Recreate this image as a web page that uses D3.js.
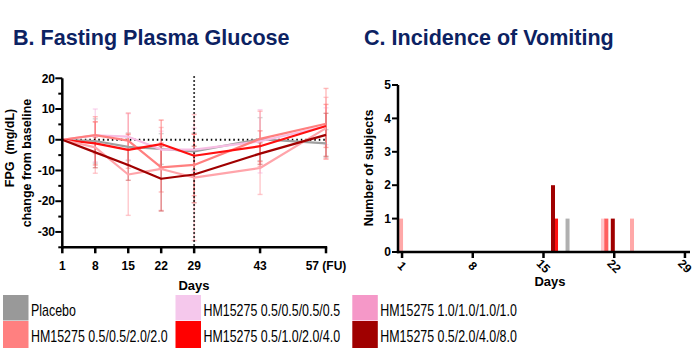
<!DOCTYPE html>
<html><head><meta charset="utf-8">
<script src="https://cdn.jsdelivr.net/npm/d3@7"></script>
<style>body{margin:0;background:#fff}svg{display:block;font-family:"Liberation Sans",Arial,sans-serif}</style>
</head><body>
<svg id="c" width="698" height="357"></svg>
<script>
// ---------- data ----------
const groups = ["Placebo","HM15275 0.5/0.5/0.5/0.5","HM15275 1.0/1.0/1.0/1.0","HM15275 0.5/0.5/2.0/2.0","HM15275 0.5/1.0/2.0/4.0","HM15275 0.5/2.0/4.0/8.0"];
const legendColors = ["#999999","#f5c8ec","#f598c8","#ff8080","#ff0000","#a00000"];
const lineColors   = ["#a0a0a0","#f7bde3","#ffa4aa","#ff7f7f","#ff1010","#a00000"];
const errColors    = ["#b8b8b8","#f7bde3","#ffa4aa","#ff9090","#ff7070","#d06060"];
const days = [1, 8, 15, 22, 29, 43, 57];
const dayLabels = ["1","8","15","22","29","43","57 (FU)"];
const fpgPlacebo = [0, -0.4, -2.3, -3.0, -3.8, 0.2, -1.2];
const fpgLow     = [0, 1.4, 1.0, -3.2, -3.2, -0.5, 4.4];
const fpgFlat1   = [0, -2.5, -11.3, -9.5, -12.3, -9.2, 3.8];
const fpgEsc2    = [0, 1.5, -0.3, -9.0, -8.2, 0.3, 5.2];
const fpgEsc4    = [0, -1.2, -3.3, -1.4, -5.2, -2.1, 4.5];
const fpgEsc8    = [0, -4.1, -8.2, -12.7, -11.3, -4.5, 1.6];
const errPlacebo = [0, 7.2, 4.5, 5.0, 6.0, 7.0, 4.5];
const errLow     = [0, 8.6, 7.5, 6.0, 7.0, 10.3, 6.0];
const errFlat1   = [0, 8.4, 13.3, 13.5, 20.5, 8.6, 10.0];
const errEsc2    = [0, 6.0, 9.0, 8.0, 10.0, 9.0, 11.5];
const errEsc4    = [0, 7.0, 5.0, 7.8, 7.0, 5.0, 7.0];
const errEsc8    = [0, 5.0, 5.0, 10.5, 9.2, 3.5, 7.0];
const fpgSeries = [fpgPlacebo, fpgLow, fpgFlat1, fpgEsc2, fpgEsc4, fpgEsc8];
const errSeries = [errPlacebo, errLow, errFlat1, errEsc2, errEsc4, errEsc8];
const yTicksB = [20, 10, 0, -10, -20, -30];

// vomiting events: day position, group index, number of subjects
const vomitDays   = [0.9, 16.24, 15.94, 17.38, 20.89, 21.22, 21.86, 23.76];
const vomitGroup  = [2, 4, 5, 0, 1, 3, 5, 2];
const vomitCounts = [1, 1, 2, 1, 1, 1, 1, 1];
const vomitTicks = [1, 8, 15, 22, 29];
const barColors = ["#b0b0b0","#ffc8cc","#ffa8a8","#ff6060","#ff1010","#a00000"];

const svg = d3.select("#c");
const navy = "#0c2262";

// ---------- titles ----------
svg.append("text").attr("transform","translate(13,45) scale(0.98,1)").attr("font-size",22).attr("font-weight","bold").attr("fill",navy).text("B. Fasting Plasma Glucose");
svg.append("text").attr("transform","translate(364,45) scale(0.98,1)").attr("font-size",22).attr("font-weight","bold").attr("fill",navy).text("C. Incidence of Vomiting");

// ---------- chart B ----------
const xB = d3.scaleLinear().domain([1,57]).range([62.3,326]);
const yB = d3.scaleLinear().domain([-35,20]).range([247.3,78.3]);
const gB = svg.append("g");

// error bars
fpgSeries.forEach((s,i)=>{
  const g = gB.append("g").attr("stroke",errColors[i]).attr("stroke-opacity",0.6).attr("stroke-width",1.4);
  days.forEach((d,j)=>{
    const e = errSeries[i][j]; if(!e) return;
    const x = xB(d);
    g.append("line").attr("x1",x).attr("x2",x).attr("y1",yB(s[j]+e)).attr("y2",yB(s[j]-e));
    g.append("line").attr("x1",x-2.5).attr("x2",x+2.5).attr("y1",yB(s[j]+e)).attr("y2",yB(s[j]+e));
    g.append("line").attr("x1",x-2.5).attr("x2",x+2.5).attr("y1",yB(s[j]-e)).attr("y2",yB(s[j]-e));
  });
});

// dotted reference lines
gB.append("line").attr("x1",xB(1)).attr("x2",xB(57)).attr("y1",yB(0)).attr("y2",yB(0))
  .attr("stroke","#000").attr("stroke-width",2).attr("stroke-dasharray","1.5,3");
gB.append("line").attr("x1",xB(29)).attr("x2",xB(29)).attr("y1",yB(20)-2).attr("y2",yB(-35))
  .attr("stroke","#000").attr("stroke-width",1.8).attr("stroke-dasharray","1.5,2.5");

// lines
const line = d3.line().x((d,j)=>xB(days[j])).y(d=>yB(d));
const order = [0,1,3,4,2,5];
order.forEach(i=>{
  gB.append("path").datum(fpgSeries[i]).attr("d",line).attr("fill","none")
    .attr("stroke",lineColors[i]).attr("stroke-width",2.2).attr("stroke-linejoin","round");
});

// axes
const axB = gB.append("g").attr("stroke","#000");
axB.append("line").attr("x1",xB(1)).attr("x2",xB(1)).attr("y1",yB(20)).attr("y2",yB(-35)+1.2).attr("stroke-width",2.5);
axB.append("line").attr("x1",xB(1)-1.2).attr("x2",xB(57)+1.2).attr("y1",yB(-35)).attr("y2",yB(-35)).attr("stroke-width",2.5);
d3.range(-35,21,5).forEach(v=>{
  const major = v%10===0;
  axB.append("line").attr("x1",xB(1)-(major?7:4)).attr("x2",xB(1)).attr("y1",yB(v)).attr("y2",yB(v)).attr("stroke-width",2);
});
days.forEach(d=>{
  axB.append("line").attr("x1",xB(d)).attr("x2",xB(d)).attr("y1",yB(-35)).attr("y2",yB(-35)+6).attr("stroke-width",2.5);
});
yTicksB.forEach(v=>{
  gB.append("text").attr("x",55).attr("y",yB(v)).attr("dy","0.35em").attr("text-anchor","end")
    .attr("font-size",12).attr("font-weight","bold").text(v);
});
days.forEach((d,j)=>{
  gB.append("text").attr("x",xB(d)).attr("y",270).attr("text-anchor","middle")
    .attr("font-size",12).attr("font-weight","bold").text(dayLabels[j]);
});
gB.append("text").attr("x",194).attr("y",290).attr("text-anchor","middle").attr("font-size",13).attr("font-weight","bold").text("Days");
gB.append("text").attr("transform","translate(13.5,148) rotate(-90)").attr("text-anchor","middle").attr("font-size",12.5).attr("font-weight","bold").attr("xml:space","preserve").text("FPG  (mg/dL)");
gB.append("text").attr("transform","translate(31,163) rotate(-90)").attr("text-anchor","middle").attr("font-size",12.5).attr("font-weight","bold").text("change from baseline");

// ---------- chart C ----------
const xC = d3.scaleLinear().domain([0.6,29.5]).range([398,690]);
const yC = d3.scaleLinear().domain([0,5]).range([252,85]);
const gC = svg.append("g");
vomitDays.forEach((d,k)=>{
  gC.append("rect").attr("x",xC(d)-2).attr("width",4)
    .attr("y",yC(vomitCounts[k])).attr("height",yC(0)-yC(vomitCounts[k]))
    .attr("fill",barColors[vomitGroup[k]]);
});
const axC = gC.append("g").attr("stroke","#000");
axC.append("line").attr("x1",xC(0.6)).attr("x2",xC(0.6)).attr("y1",yC(5)).attr("y2",yC(0)+1.2).attr("stroke-width",2.5);
axC.append("line").attr("x1",xC(0.6)-1.2).attr("x2",xC(29.5)).attr("y1",yC(0)).attr("y2",yC(0)).attr("stroke-width",2.5);
d3.range(0,6).forEach(v=>{
  axC.append("line").attr("x1",xC(0.6)-6).attr("x2",xC(0.6)).attr("y1",yC(v)).attr("y2",yC(v)).attr("stroke-width",2);
  gC.append("text").attr("x",391).attr("y",yC(v)).attr("dy","0.35em").attr("text-anchor","end")
    .attr("font-size",12).attr("font-weight","bold").text(v);
});
vomitTicks.forEach(d=>{
  axC.append("line").attr("x1",xC(d)).attr("x2",xC(d)).attr("y1",yC(0)).attr("y2",yC(0)+6).attr("stroke-width",2.5);
  gC.append("text").attr("transform",`translate(${xC(d)},${yC(0)+14}) rotate(45)`).attr("text-anchor","middle")
    .attr("dy","0.35em").attr("font-size",12).attr("font-weight","bold").text(d);
});
gC.append("text").attr("x",550).attr("y",286).attr("text-anchor","middle").attr("font-size",13).attr("font-weight","bold").text("Days");
gC.append("text").attr("transform","translate(373,168) rotate(-90)").attr("text-anchor","middle").attr("font-size",12.5).attr("font-weight","bold").text("Number of subjects");

// ---------- legend ----------
const legCols = [3, 175.5, 352.3];
const legRows = [295, 321];
const legOrder = [[0,3],[1,4],[2,5]];
legOrder.forEach((col,ci)=>{
  col.forEach((gi,ri)=>{
    svg.append("rect").attr("x",legCols[ci]).attr("y",legRows[ri]).attr("width",25.5).attr("height",ri?27:25.5).attr("fill",legendColors[gi]);
    svg.append("text").attr("transform",`translate(${legCols[ci]+28},${legRows[ri]+20.5}) scale(0.73,1)`)
      .attr("font-size",17).attr("fill","#000").text(groups[gi]);
  });
});
</script>
</body></html>
